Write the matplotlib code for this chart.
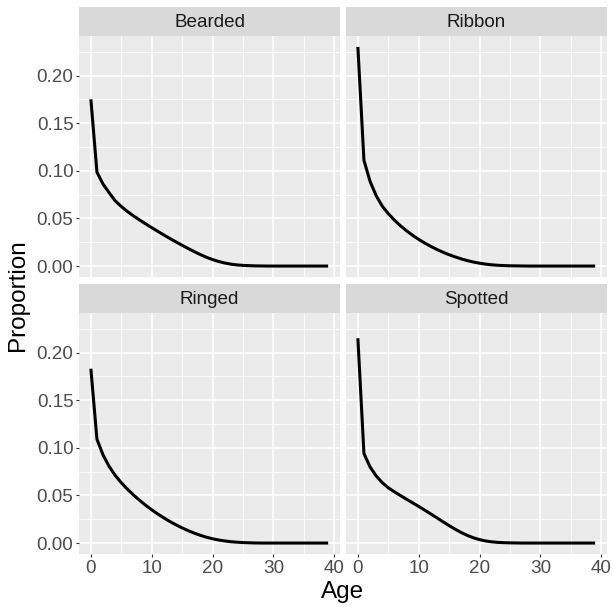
import matplotlib
matplotlib.use("Agg")
import matplotlib.pyplot as plt
from matplotlib.ticker import MultipleLocator

plt.rcParams['font.family'] = ['Liberation Sans', 'DejaVu Sans']

ages = list(range(40))
species = ["Bearded", "Ribbon", "Ringed", "Spotted"]

bearded = [0.175, 0.0986, 0.086, 0.077, 0.0685, 0.0625, 0.0573, 0.0527, 0.0484, 0.0443,
           0.0403, 0.0364, 0.0326, 0.0289, 0.0253, 0.0218, 0.0184, 0.0151, 0.012, 0.0092,
           0.0068, 0.0048, 0.0032, 0.002, 0.0012, 0.0007, 0.0004, 0.0002, 0.0001, 0.0,
           0.0, 0.0, 0.0, 0.0, 0.0, 0.0, 0.0, 0.0, 0.0, 0.0]
ribbon = [0.230, 0.111, 0.089, 0.074, 0.063, 0.055, 0.0482, 0.0423, 0.037, 0.0323,
          0.028, 0.0241, 0.0206, 0.0174, 0.0145, 0.0119, 0.0096, 0.0075, 0.0057, 0.0042,
          0.003, 0.002, 0.0013, 0.0008, 0.0005, 0.0003, 0.0002, 0.0001, 0.0, 0.0,
          0.0, 0.0, 0.0, 0.0, 0.0, 0.0, 0.0, 0.0, 0.0, 0.0]
ringed = [0.183, 0.109, 0.0925, 0.0805, 0.071, 0.0633, 0.0566, 0.0505, 0.0449, 0.0397,
          0.0349, 0.0305, 0.0264, 0.0226, 0.0191, 0.0159, 0.013, 0.0104, 0.0081, 0.0061,
          0.0045, 0.0032, 0.0022, 0.0014, 0.0009, 0.0005, 0.0003, 0.0001, 0.0, 0.0,
          0.0, 0.0, 0.0, 0.0, 0.0, 0.0, 0.0, 0.0, 0.0, 0.0]
spotted = [0.215, 0.094, 0.080, 0.0705, 0.0635, 0.058, 0.0538, 0.0499, 0.046, 0.0422,
           0.0384, 0.0345, 0.0305, 0.0264, 0.0223, 0.0183, 0.0145, 0.011, 0.008, 0.0055,
           0.0036, 0.0022, 0.0013, 0.0007, 0.0004, 0.0002, 0.0001, 0.0, 0.0, 0.0,
           0.0, 0.0, 0.0, 0.0, 0.0, 0.0, 0.0, 0.0, 0.0, 0.0]
series = [bearded, ribbon, ringed, spotted]

x_ticks = [0, 10, 20, 30, 40]
y_ticks = [0.00, 0.05, 0.10, 0.15, 0.20]
y_tick_labels = ["0.00", "0.05", "0.10", "0.15", "0.20"]

W, H = 612, 607
fig = plt.figure(figsize=(W / 100, H / 100), dpi=100)

def fr(x0, y0, x1, y1):
    return [x0 / W, 1 - y1 / H, (x1 - x0) / W, (y1 - y0) / H]

cols = [(79, 340), (346, 607)]
rows = [((7, 36), (36, 277)), ((284, 313), (313, 554))]

ymax = max(max(s) for s in series)
xr = (min(ages), max(ages))
xpad = 0.05 * (xr[1] - xr[0])
ypad = 0.05 * ymax

tick_col = "#333333"
lab_col = "#4D4D4D"
fs_tick = 13.6
fs_title = 17.5

for i, (name, vals) in enumerate(zip(species, series)):
    r, c = divmod(i, 2)
    (sy0, sy1), (py0, py1) = rows[r]
    cx0, cx1 = cols[c]
    # strip
    sax = fig.add_axes(fr(cx0, sy0, cx1, sy1))
    sax.set_facecolor("#D9D9D9")
    sax.set_xticks([]); sax.set_yticks([])
    for sp in sax.spines.values():
        sp.set_visible(False)
    sax.text(0.5, 0.47, name, ha="center", va="center", fontsize=fs_tick,
             color="#1A1A1A", transform=sax.transAxes)
    # panel
    ax = fig.add_axes(fr(cx0, py0, cx1, py1))
    ax.set_facecolor("#EBEBEB")
    for sp in ax.spines.values():
        sp.set_visible(False)
    ax.plot(ages, vals, color="black", lw=2.2, solid_capstyle="butt",
            solid_joinstyle="round", zorder=3)
    ax.set_xlim(xr[0] - xpad, xr[1] + xpad)
    ax.set_ylim(-ypad, ymax + ypad)
    ax.set_xticks(x_ticks)
    ax.set_yticks(y_ticks)
    ax.xaxis.set_minor_locator(MultipleLocator(5))
    ax.yaxis.set_minor_locator(MultipleLocator(0.025))
    ax.grid(which="major", color="white", lw=1.1)
    ax.grid(which="minor", color="white", lw=0.55)
    ax.set_axisbelow(True)
    ax.tick_params(which="minor", length=0)
    ax.tick_params(which="major", length=2.5, width=0.8, color=tick_col,
                   labelsize=fs_tick, labelcolor=lab_col, pad=1.5)
    if c == 0:
        ax.set_yticklabels(y_tick_labels)
    else:
        ax.tick_params(axis="y", length=0, labelleft=False)
    if r == 1:
        ax.set_xticklabels([str(t) for t in x_ticks])
    else:
        ax.tick_params(axis="x", length=0, labelbottom=False)

fig.text(343 / W, 1 - 592 / H, "Age", ha="center", va="center", fontsize=fs_title, color="black")
fig.text(18 / W, 1 - 295 / H, "Proportion", ha="center", va="center", rotation=90,
         fontsize=fs_title, color="black")

fig.savefig("out.png", dpi=100, facecolor="white")
